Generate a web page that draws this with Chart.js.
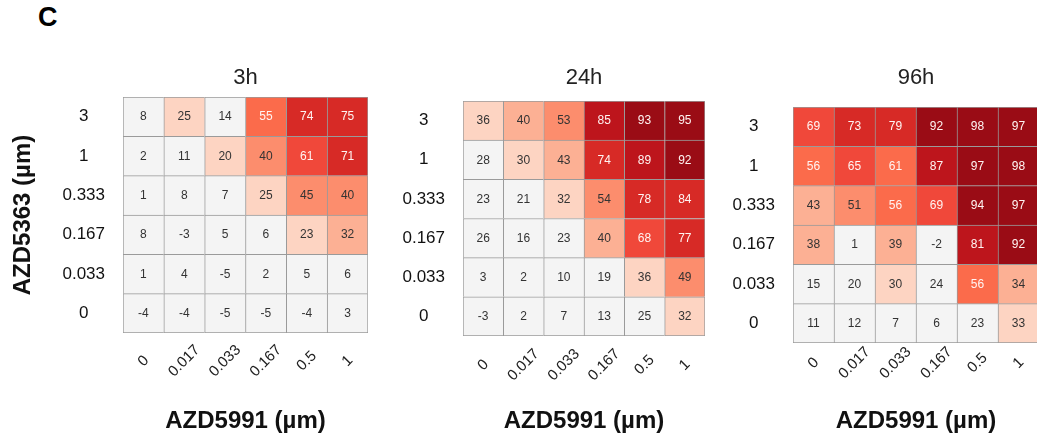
<!DOCTYPE html>
<html><head><meta charset="utf-8">
<script src="https://cdn.jsdelivr.net/npm/chart.js@4.4.1/dist/chart.umd.min.js"></script>
<style>
html,body{margin:0;padding:0;background:#fff;width:1037px;height:439px;overflow:hidden;position:relative}
canvas{position:absolute;top:0}
#lab{position:absolute;left:38px;top:4px;font:bold 27px 'Liberation Sans',Arial,sans-serif;line-height:27px;color:#000}
</style></head><body>
<div id="lab">C</div>
<canvas id="c3" width="380" height="439" style="left:0px"></canvas>
<canvas id="c24" width="340" height="439" style="left:380px"></canvas>
<canvas id="c96" width="319" height="439" style="left:720px"></canvas>
<script>
// ---- data ----
const xLabels = ['0', '0.017', '0.033', '0.167', '0.5', '1'];      // AZD5991 (µm)
const yLabels = ['3', '1', '0.333', '0.167', '0.033', '0'];        // AZD5363 (µm), top -> bottom
const panelTitles = ['3h', '24h', '96h'];
const values3h = [
  [8, 25, 14, 55, 74, 75],
  [2, 11, 20, 40, 61, 71],
  [1, 8, 7, 25, 45, 40],
  [8, -3, 5, 6, 23, 32],
  [1, 4, -5, 2, 5, 6],
  [-4, -4, -5, -5, -4, 3]
];
const values24h = [
  [36, 40, 53, 85, 93, 95],
  [28, 30, 43, 74, 89, 92],
  [23, 21, 32, 54, 78, 84],
  [26, 16, 23, 40, 68, 77],
  [3, 2, 10, 19, 36, 49],
  [-3, 2, 7, 13, 25, 32]
];
const values96h = [
  [69, 73, 79, 92, 98, 97],
  [56, 65, 61, 87, 97, 98],
  [43, 51, 56, 69, 94, 97],
  [38, 1, 39, -2, 81, 92],
  [15, 20, 30, 24, 56, 34],
  [11, 12, 7, 6, 23, 33]
];
// colour-step breakpoints per panel
const breaks3h = [15, 30, 38, 50, 58, 70, 101, 101];
const breaks24h = [29, 37, 45, 60, 65, 70, 85, 90];
const breaks96h = [25, 34, 50, 55, 63, 70, 80, 90];

// ---- styles ----
const palette = ['#f4f4f4', '#fdd4c2', '#fcb094', '#fc8d6d', '#fb6b4b', '#f0483a', '#d72a26', '#bd151c', '#9a0c15'];
const FONT = "'Liberation Sans', Arial, sans-serif";

function level(v, br) { let l = 0; br.forEach(b => { if (v >= b) l++; }); return l; }

const cellText = {
  id: 'cellText',
  afterDatasetsDraw(chart) {
    const ctx = chart.ctx;
    ctx.save();
    ctx.font = '12px ' + FONT;
    ctx.textAlign = 'center';
    ctx.textBaseline = 'middle';
    chart.data.datasets.forEach((ds, di) => {
      const meta = chart.getDatasetMeta(di);
      meta.data.forEach((el, i) => {
        ctx.fillStyle = ds.levels[i] >= 4 ? '#fff4f2' : '#333333';
        ctx.fillText(String(ds.cellValues[i]), el.x, (el.y + el.base) / 2 + 0.5);
      });
    });
    ctx.restore();
  }
};

const xTickText = {
  id: 'xTickText',
  afterDraw(chart, args, opts) {
    const sc = chart.scales.x, ctx = chart.ctx;
    ctx.save();
    ctx.font = '15px ' + FONT;
    ctx.fillStyle = '#222';
    ctx.textAlign = 'center';
    ctx.textBaseline = 'middle';
    sc.ticks.forEach((t, i) => {
      ctx.save();
      ctx.translate(sc.getPixelForTick(i), opts.y);
      ctx.rotate(-Math.PI / 4);
      ctx.fillText(xLabels[i], 0, 0);
      ctx.restore();
    });
    ctx.restore();
  }
};

function makePanel(id, title, values, breaks, geo) {
  const datasets = [];
  for (let r = 0; r < yLabels.length; r++) {
    const row = values[yLabels.length - 1 - r];
    const lv = row.map(v => level(v, breaks));
    datasets.push({
      data: xLabels.map(() => 1),
      cellValues: row,
      levels: lv,
      backgroundColor: lv.map(l => palette[l]),
      borderColor: '#9a9a9a',
      borderSkipped: false,
      borderWidth: c => ({ left: 1, top: 1, right: c.dataIndex === xLabels.length - 1 ? 1 : 0, bottom: c.datasetIndex === 0 ? 1 : 0 }),
      barPercentage: 1,
      categoryPercentage: 1
    });
  }
  new Chart(document.getElementById(id), {
    type: 'bar',
    data: { labels: xLabels, datasets },
    plugins: [cellText, xTickText],
    options: {
      responsive: false,
      animation: false,
      devicePixelRatio: 1,
      layout: { padding: { left: 0, right: geo.padRight, top: 0, bottom: 0 } },
      plugins: {
        legend: { display: false },
        tooltip: { enabled: false },
        title: {
          display: true, text: title, fullSize: false,
          color: '#222', font: { family: FONT, size: 22, weight: 'normal' },
          padding: { top: 65, bottom: geo.titlePadBottom }
        },
        xTickText: { y: geo.xLabelY }
      },
      scales: {
        x: {
          type: 'category', stacked: true, offset: true,
          grid: { display: false, drawTicks: false }, border: { display: false },
          ticks: { display: false },
          title: { display: true, text: 'AZD5991 (µm)', color: '#111', font: { family: FONT, size: 24, weight: 'bold' }, padding: { top: 0, bottom: 3 } },
          afterFit: s => { s.height = geo.xHeight; }
        },
        y: {
          type: 'linear', stacked: true, min: 0, max: 6,
          grid: { display: false, drawTicks: false }, border: { display: false },
          afterBuildTicks: s => { s.ticks = [0.5, 1.5, 2.5, 3.5, 4.5, 5.5].map(v => ({ value: v })); },
          ticks: {
            crossAlign: 'center', padding: 18, color: '#111',
            font: { family: FONT, size: 17 },
            callback: v => yLabels[yLabels.length - 1 - Math.floor(v)]
          },
          title: { display: geo.yTitle, text: 'AZD5363 (µm)', color: '#111', font: { family: FONT, size: 24, weight: 'bold' }, padding: { top: 9, bottom: 0 } },
          afterFit: s => { s.width = geo.yWidth; }
        }
      }
    }
  });
}

makePanel('c3', panelTitles[0], values3h, breaks3h, { padRight: 12, titlePadBottom: 5.6, xHeight: 106, yWidth: 123, xLabelY: 361, yTitle: true });
makePanel('c24', panelTitles[1], values24h, breaks24h, { padRight: 15, titlePadBottom: 9.6, xHeight: 103, yWidth: 83, xLabelY: 365, yTitle: false });
makePanel('c96', panelTitles[2], values96h, breaks96h, { padRight: 0, titlePadBottom: 15.6, xHeight: 96, yWidth: 73, xLabelY: 363, yTitle: false });
</script>
</body></html>
